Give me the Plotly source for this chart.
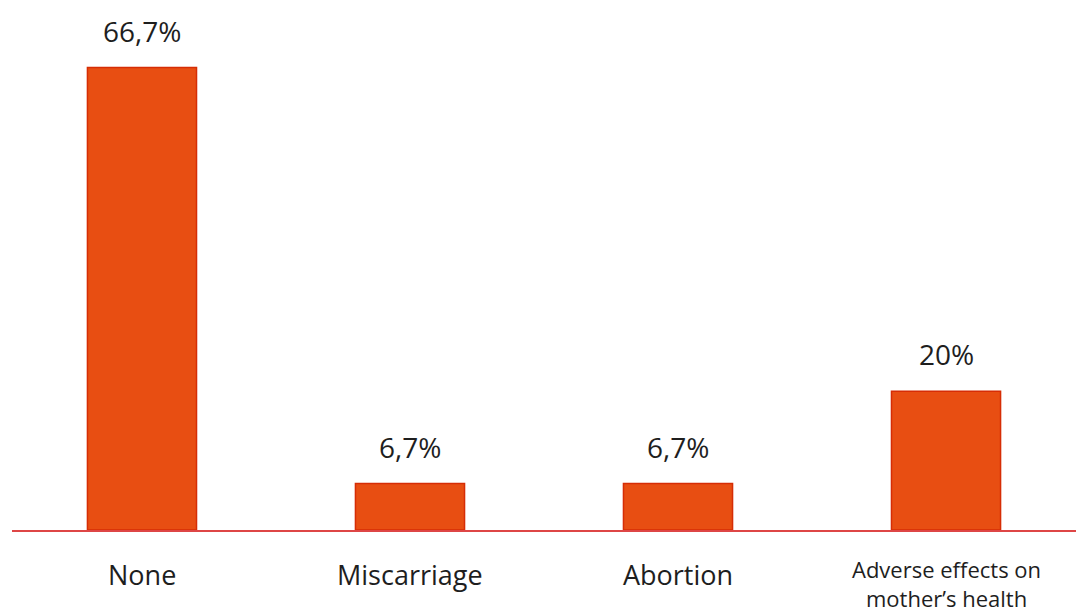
import plotly.graph_objects as go

categories = ["None", "Miscarriage", "Abortion", "Adverse effects on<br>mother’s health"]
values = [66.7, 6.7, 6.7, 20]
value_labels = ["66,7%", "6,7%", "6,7%", "20%"]

FONT = "Open Sans"
x_idx = list(range(len(categories)))

fig = go.Figure()
fig.add_trace(go.Bar(
    x=x_idx, y=values,
    marker=dict(color="rgb(232,78,18)", line=dict(color="rgb(214,45,5)", width=1.5)),
    width=0.407,
    hoverinfo="skip",
))

annotations = []
for i, (v, t) in enumerate(zip(values, value_labels)):
    annotations.append(dict(x=i, y=v, xref="x", yref="y", text=t, showarrow=False,
                            yanchor="middle", yshift=37,
                            font=dict(family=FONT, size=28, color="#1e1e1e")))
for i, c in enumerate(categories):
    multi = "<br>" in c
    annotations.append(dict(x=i, y=0, xref="x", yref="y", text=c, showarrow=False,
                            yanchor="middle", yshift=-53 if multi else -44,
                            font=dict(family=FONT, size=22 if multi else 27, color="#1e1e1e")))

fig.update_layout(
    width=1076, height=614,
    margin=dict(l=12, r=0, t=10, b=84),
    paper_bgcolor="white", plot_bgcolor="white",
    showlegend=False,
    annotations=annotations,
    xaxis=dict(range=[-0.485, 3.485], showticklabels=False, showgrid=False, zeroline=False,
               showline=True, linecolor="rgb(222,70,70)", linewidth=2, ticks=""),
    yaxis=dict(range=[0, 75], visible=False),
)

fig.write_html("out.html")
